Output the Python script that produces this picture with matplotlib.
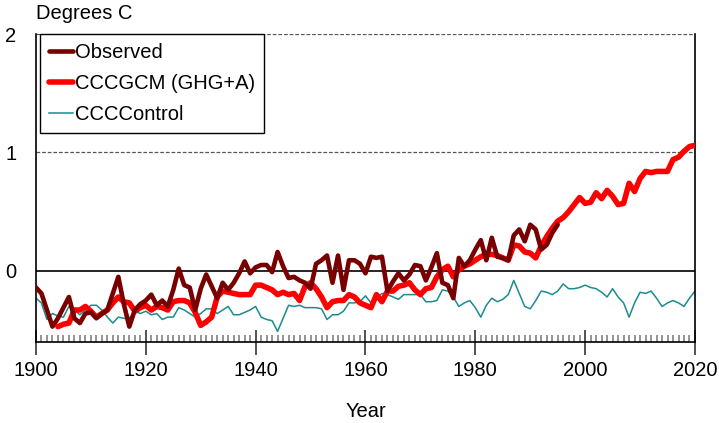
import numpy as np
import matplotlib
matplotlib.use('Agg')
import matplotlib.pyplot as plt

plt.rcParams['font.family'] = ['Liberation Sans', 'DejaVu Sans']

# yearly anomalies (degrees C)
observed = [-0.14, -0.19, -0.33, -0.47, -0.40, -0.31, -0.22, -0.40, -0.44, -0.36,
            -0.35, -0.40, -0.36, -0.33, -0.19, -0.05, -0.28, -0.47, -0.33, -0.28,
            -0.25, -0.20, -0.29, -0.25, -0.30, -0.16, 0.02, -0.12, -0.14, -0.33,
            -0.15, -0.03, -0.13, -0.23, -0.10, -0.16, -0.10, -0.02, 0.08, -0.02,
            0.03, 0.05, 0.05, -0.01, 0.16, 0.04, -0.06, -0.05, -0.08, -0.10,
            -0.15, 0.06, 0.09, 0.13, -0.10, 0.13, -0.16, 0.09, 0.09, 0.06,
            -0.02, 0.12, 0.11, 0.12, -0.17, -0.09, -0.02, -0.08, -0.03, 0.05,
            0.04, -0.08, 0.03, 0.15, -0.10, -0.12, -0.23, 0.11, 0.04, 0.09,
            0.18, 0.26, 0.09, 0.28, 0.12, 0.11, 0.09, 0.30, 0.35, 0.25,
            0.39, 0.35, 0.18, 0.22, 0.32, 0.39]
obs_start = 1900

gcm = [-0.47, -0.45, -0.44, -0.33, -0.33, -0.30,
       -0.34, -0.39, -0.36, -0.33, -0.27, -0.22, -0.26, -0.27, -0.34, -0.31,
       -0.29, -0.33, -0.30, -0.31, -0.33, -0.26, -0.25, -0.25, -0.27, -0.35,
       -0.46, -0.43, -0.39, -0.22, -0.17, -0.18, -0.19, -0.20, -0.20, -0.20,
       -0.12, -0.12, -0.14, -0.16, -0.20, -0.18, -0.20, -0.19, -0.25, -0.13,
       -0.10, -0.15, -0.22, -0.31, -0.26, -0.25, -0.25, -0.20, -0.22, -0.27,
       -0.29, -0.31, -0.20, -0.26, -0.17, -0.17, -0.13, -0.12, -0.10, -0.16,
       -0.20, -0.15, -0.14, -0.05, 0.01, 0.04, -0.05, 0.01, 0.04, 0.06,
       0.09, 0.12, 0.14, 0.14, 0.13, 0.11, 0.09, 0.22, 0.21, 0.16,
       0.15, 0.11, 0.21, 0.29, 0.36, 0.42, 0.45, 0.50, 0.56, 0.62,
       0.57, 0.58, 0.66, 0.61, 0.68, 0.63, 0.56, 0.57, 0.74, 0.67,
       0.78, 0.84, 0.83, 0.84, 0.84, 0.84, 0.94, 0.96, 1.01, 1.05, 1.06]
gcm_start = 1904

control = [-0.23, -0.27, -0.41, -0.36, -0.38, -0.39, -0.30, -0.33, -0.37, -0.33,
           -0.29, -0.29, -0.33, -0.39, -0.44, -0.39, -0.40, -0.40, -0.34, -0.36,
           -0.34, -0.37, -0.36, -0.41, -0.39, -0.39, -0.31, -0.33, -0.36, -0.39,
           -0.36, -0.32, -0.32, -0.36, -0.33, -0.30, -0.37, -0.37, -0.35, -0.33,
           -0.30, -0.39, -0.41, -0.42, -0.51, -0.40, -0.29, -0.30, -0.29, -0.31,
           -0.31, -0.31, -0.32, -0.41, -0.37, -0.37, -0.34, -0.27, -0.27, -0.26,
           -0.21, -0.27, -0.23, -0.19, -0.20, -0.22, -0.24, -0.20, -0.20, -0.20,
           -0.20, -0.26, -0.26, -0.25, -0.16, -0.17, -0.22, -0.30, -0.27, -0.25,
           -0.31, -0.39, -0.29, -0.23, -0.26, -0.24, -0.20, -0.08, -0.19, -0.30,
           -0.32, -0.25, -0.17, -0.18, -0.20, -0.17, -0.11, -0.15, -0.15, -0.14,
           -0.12, -0.14, -0.15, -0.18, -0.22, -0.15, -0.22, -0.27, -0.39, -0.27,
           -0.18, -0.19, -0.17, -0.23, -0.30, -0.27, -0.25, -0.27, -0.30, -0.23, -0.17]
control_start = 1900

labels = ['Observed', 'CCCGCM (GHG+A)', 'CCCControl']

obs_years = np.arange(obs_start, obs_start + len(observed))
gcm_years = np.arange(gcm_start, gcm_start + len(gcm))
control_years = np.arange(control_start, control_start + len(control))

fig = plt.figure(figsize=(7.19, 4.23), dpi=100)
ax = fig.add_axes([0.050, 0.1915, 0.9166, 0.7281])

# horizontal reference lines
ax.axhline(1, color='#555555', lw=0.9, ls=(0, (3, 1.5)), zorder=1)
ax.axhline(2, color='#555555', lw=0.9, ls=(0, (3, 1.5)), zorder=1)
ax.axhline(0, color='black', lw=1.2, zorder=1)

l3, = ax.plot(control_years, control, color='#1a8c8c', lw=1.1, zorder=2)
l2, = ax.plot(gcm_years, gcm, color='#ff0000', lw=4.0, zorder=3,
              solid_joinstyle='round', solid_capstyle='round')
l1, = ax.plot(obs_years, observed, color='#780000', lw=3.3, zorder=4,
              solid_joinstyle='round', solid_capstyle='round')

ax.set_xlim(1900, 2020)
ax.set_ylim(-0.6, 2)

ax.set_xticks(np.arange(1900, 2021, 20))
ax.set_xticks(np.arange(1900, 2021, 1), minor=True)
ax.set_yticks([0, 1, 2])
ax.tick_params(axis='x', which='major', direction='inout', length=18, width=1.3,
               color='#444444', labelsize=14.5, pad=5)
ax.tick_params(axis='x', which='minor', direction='in', length=5, width=1.1,
               color='#777777')
ax.tick_params(axis='y', which='major', length=0, labelsize=14.5, pad=14)

ax.spines['top'].set_visible(False)
for s in ['left', 'right', 'bottom']:
    ax.spines[s].set_linewidth(1.2)
    ax.spines[s].set_color('black')

ax.set_xlabel('Year', fontsize=14.5)
ax.xaxis.set_label_coords(0.5, -0.195)
ax.text(0.0, 1.035, 'Degrees C', transform=ax.transAxes, fontsize=14.5,
        ha='left', va='bottom')

leg = ax.legend([l1, l2, l3], labels, loc='upper left',
                bbox_to_anchor=(0.006, 1.0), borderaxespad=0, fontsize=14.5,
                handlelength=1.2, handletextpad=0.1, labelspacing=0.6,
                borderpad=0.45, fancybox=False, framealpha=1,
                edgecolor='black')
leg.get_frame().set_linewidth(1.0)

fig.savefig('out.png', dpi=100)
